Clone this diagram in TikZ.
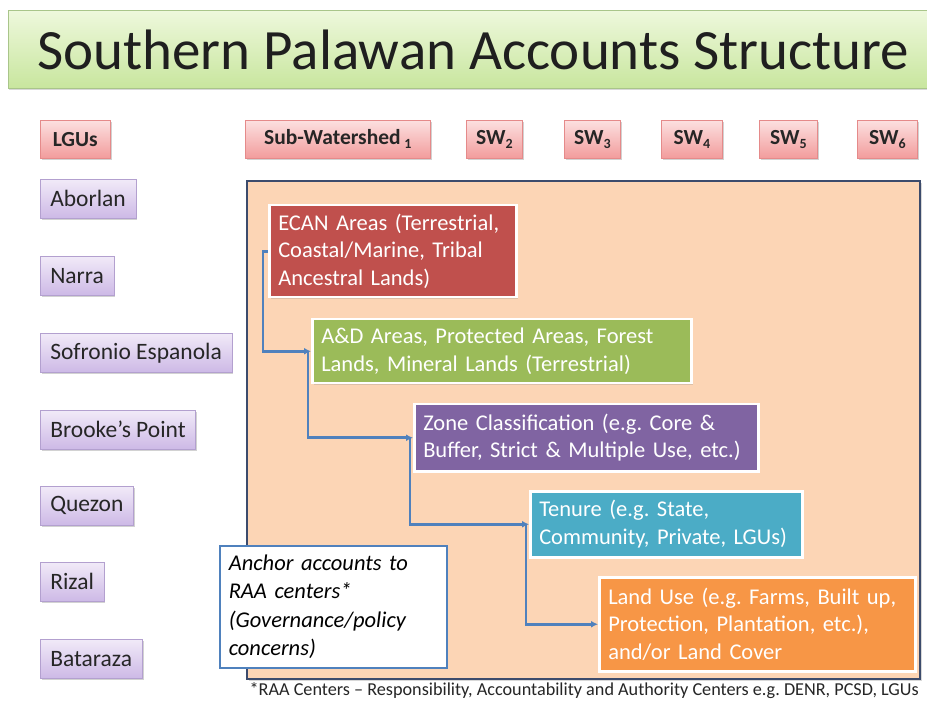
\documentclass[tikz,border=0pt]{standalone}
\usepackage{fontspec}
\setmainfont{Carlito}
\usetikzlibrary{shadows,arrows.meta,calc}
\definecolor{gTop}{HTML}{EEF8DC}
\definecolor{gBot}{HTML}{C8E69E}
\definecolor{gBorder}{HTML}{A9C58A}
\definecolor{pTop}{HTML}{FCE0E0}
\definecolor{pBot}{HTML}{F29C9C}
\definecolor{pBorder}{HTML}{E58A8A}
\definecolor{lTop}{HTML}{F1EAF8}
\definecolor{lBot}{HTML}{CDB9E6}
\definecolor{lBorder}{HTML}{B3A0CF}
\definecolor{peach}{HTML}{FCD5B5}
\definecolor{navy}{HTML}{3C4B6C}
\definecolor{cRed}{HTML}{C0504D}
\definecolor{cGreen}{HTML}{9BBB59}
\definecolor{cPurple}{HTML}{8064A2}
\definecolor{cTeal}{HTML}{4BACC6}
\definecolor{cOrange}{HTML}{F79646}
\definecolor{cBlue}{HTML}{4F81BD}
\definecolor{txt}{HTML}{262626}
\newcommand{\subn}[1]{\raisebox{-4pt}{\fontsize{14}{14}\selectfont #1}}
\frenchspacing
\begin{document}
\begin{tikzpicture}[x=1pt,y=-1pt,
  sh/.style={drop shadow={opacity=0.35,shadow xshift=1.5pt,shadow yshift=-2pt}},
  pinkbox/.style={draw=pBorder,line width=0.6pt,top color=pTop,bottom color=pBot,sh,
    anchor=north west,minimum height=38pt,inner sep=0pt,text=txt,
    font=\bfseries\fontsize{21.5}{24}\selectfont},
  lavbox/.style={draw=lBorder,line width=0.6pt,top color=lTop,bottom color=lBot,sh,
    anchor=north west,minimum height=39pt,inner xsep=10pt,inner ysep=0pt,text=txt,
    font=\fontsize{23.5}{26}\selectfont},
  cbox/.style={draw=white,line width=2.5pt,text=white,align=left,anchor=north west,
    inner xsep=9pt,inner ysep=0pt,font=\fontsize{22.5}{27.5}\selectfont,
    drop shadow={opacity=0.25,shadow xshift=1.5pt,shadow yshift=-2pt}},
  conn/.style={draw=cBlue,line width=2.6pt,-{Latex[length=7pt,width=7pt]}}
]
\useasboundingbox[fill=white] (0,0) rectangle (927,703);
% title banner
\node[draw=gBorder,line width=0.8pt,top color=gTop,bottom color=gBot,anchor=north west,
  minimum width=940pt,minimum height=78pt,inner sep=0pt,
  drop shadow={opacity=0.3,shadow xshift=1pt,shadow yshift=-2pt}] (bar) at (8,10) {};
\node[anchor=west,inner sep=0pt,text=black!88,font=\fontsize{57}{60}\selectfont] (title) at (37,50) {Southern Palawan Accounts Structure};
% top row
\node[pinkbox,minimum width=70pt] (lgus) at (40,120) {LGUs};
\node[pinkbox,minimum width=185pt] (sw1) at (245,120) {Sub-Watershed\,\subn{1}};
\node[pinkbox,minimum width=56pt] (sw2) at (466,120) {SW\subn{2}};
\node[pinkbox,minimum width=56pt] (sw3) at (564,120) {SW\subn{3}};
\node[pinkbox,minimum width=61pt] (sw4) at (661,120) {SW\subn{4}};
\node[pinkbox,minimum width=58pt] (sw5) at (759,120) {SW\subn{5}};
\node[pinkbox,minimum width=60pt] (sw6) at (857,120) {SW\subn{6}};
% left column
\node[lavbox] (abo) at (40,179) {Aborlan};
\node[lavbox] (nar) at (40,256) {Narra};
\node[lavbox] (sof) at (40,333) {Sofronio Espanola};
\node[lavbox] (bro) at (40,410) {Brooke’s Point};
\node[lavbox] (que) at (40,486) {Quezon};
\node[lavbox] (riz) at (40,562) {Rizal};
\node[lavbox] (bat) at (40,639) {Bataraza};
% main area
\node[draw=navy,line width=2pt,fill=peach,anchor=north west,minimum width=673pt,minimum height=498pt,inner sep=0pt,
  drop shadow={opacity=0.3,shadow xshift=1.5pt,shadow yshift=-2pt}] (main) at (246,180) {};
% coloured boxes
\node[cbox,fill=cRed,text width=229pt,minimum height=92pt] (ecan) at (268,204)
  {\mbox{ECAN Areas (Terrestrial,}\\\mbox{Coastal/Marine, Tribal}\\\mbox{Ancestral Lands)}};
\node[cbox,fill=cGreen,text width=361pt,minimum height=64pt] (ad) at (311,318)
  {\mbox{A\&D Areas, Protected Areas, Forest}\\\mbox{Lands, Mineral Lands (Terrestrial)}};
\node[cbox,fill=cPurple,text width=326pt,minimum height=67pt] (zone) at (413,403)
  {\mbox{Zone Classification (e.g. Core \&}\\\mbox{Buffer, Strict \& Multiple Use, etc.)}};
\node[cbox,fill=cTeal,text width=254pt,minimum height=66pt] (ten) at (529,490)
  {\mbox{Tenure (e.g. State,}\\\mbox{Community, Private, LGUs)}};
\node[cbox,fill=cOrange,text width=298pt,minimum height=94pt] (land) at (598,576)
  {\mbox{Land Use (e.g. Farms, Built up,}\\\mbox{Protection, Plantation, etc.),}\\\mbox{and/or Land Cover}};
% connectors
\draw[conn] (ecan.west) -- ++(-5,0) |- (ad.west);
\draw[conn] ($(ad.west)+(-3,0)$) |- (zone.west);
\draw[conn] ($(zone.west)+(-3,0)$) |- (ten.west);
\draw[conn] ($(ten.west)+(-3,0)$) |- (land.west);
% anchor box
\node[draw=cBlue,line width=1.5pt,fill=white,anchor=north west,text width=209pt,minimum height=122pt,
  inner xsep=9pt,inner ysep=0pt,align=left,text=black,font=\itshape\fontsize{22.5}{28.3}\selectfont] (anchor) at (219,545)
  {Anchor accounts to\\RAA centers*\\(Governance/policy\\concerns)};
% footnote
\node[anchor=east,inner sep=0pt,text=txt,font=\fontsize{18.2}{19}\selectfont] (foot) at (919,691)
  {*RAA Centers -- Responsibility, Accountability and Authority Centers e.g. DENR, PCSD, LGUs};
\end{tikzpicture}
\end{document}
